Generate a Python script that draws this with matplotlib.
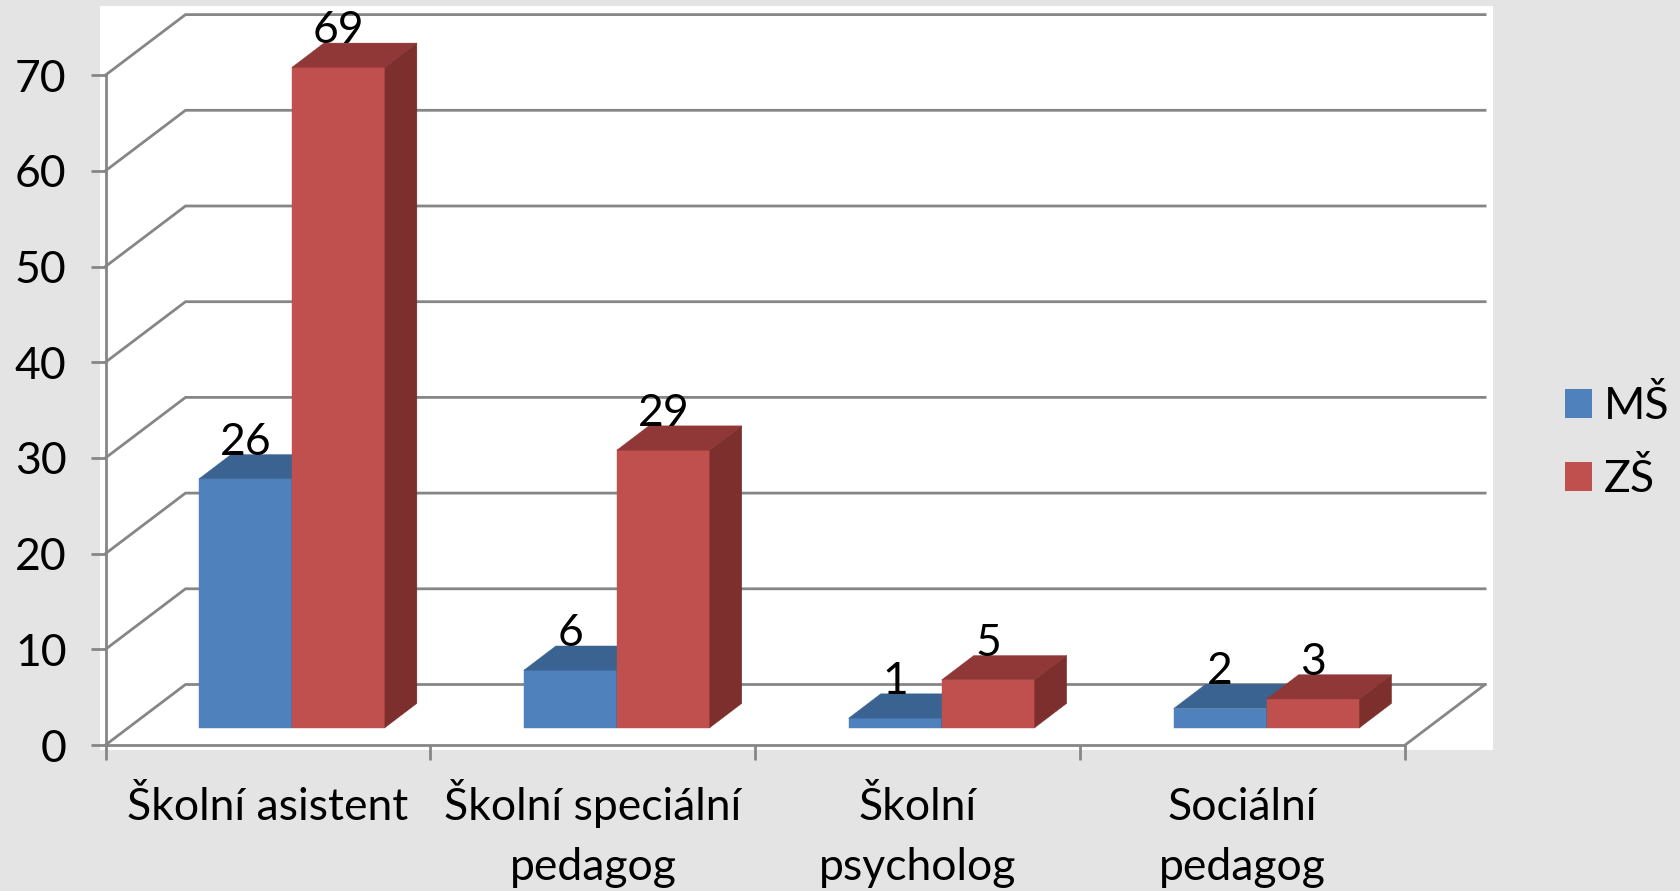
import matplotlib.pyplot as plt
from matplotlib.patches import Patch, Polygon

categories = ['Školní asistent', 'Školní speciální\npedagog', 'Školní\npsycholog', 'Sociální\npedagog']
ms_values = [26, 6, 1, 2]
zs_values = [69, 29, 5, 3]
y_ticks = [0, 10, 20, 30, 40, 50, 60, 70]

bg_color = '#E4E4E4'
grid_color = '#868686'
ms_colors = ('#4F81BD', '#3A6391', '#3A6391')
zs_colors = ('#C0504D', '#903838', '#7C2F2D')
font_size = 32

# one category is 324.9 px wide, ten units on y are 95.7 px
px_x = 324.9
px_y = 9.57
wall_dx = 80 / px_x
wall_dy = 60.5 / px_y
bar_dx = 32 / px_x
bar_dy = 24.3 / px_y
bar_base = 17.3 / px_y
bar_left = 0.2875
bar_width = 0.2862

plt.rcParams['font.family'] = ['Lato', 'DejaVu Sans']
plt.rcParams['font.size'] = font_size

w, h = 1680, 891
fig = plt.figure(figsize=(w / 100, h / 100), dpi=100, facecolor=bg_color)
ax = fig.add_axes([100 / w, 1 - 750 / h, 1393 / w, 744 / h], facecolor='white')
ax.set_xlim(-5.5 / px_x, 1387.5 / px_x)
ax.set_ylim(-5 / px_y, 739 / px_y)


def draw_bar(x, value, colors):
    y0 = bar_base
    y1 = bar_base + value
    x1 = x + bar_width
    front = [(x, y0), (x1, y0), (x1, y1), (x, y1)]
    top = [(x, y1), (x1, y1), (x1 + bar_dx, y1 + bar_dy), (x + bar_dx, y1 + bar_dy)]
    side = [(x1, y0), (x1 + bar_dx, y0 + bar_dy), (x1 + bar_dx, y1 + bar_dy), (x1, y1)]
    for points, color in zip((front, top, side), colors):
        ax.add_patch(Polygon(points, closed=True, facecolor=color, edgecolor=color, linewidth=0.3, zorder=3))
    ax.text(x + bar_width / 2, y1 + bar_dy, str(value), ha='center', va='baseline', color='black', zorder=4)


# walls
for v in y_ticks:
    ax.plot([0, wall_dx, len(categories) + wall_dx], [v, v + wall_dy, v + wall_dy],
            color=grid_color, linewidth=2.0, zorder=1, solid_joinstyle='miter')
ax.plot([len(categories), len(categories) + wall_dx], [0, wall_dy], color=grid_color, linewidth=2.0, zorder=1)

for i in range(len(categories)):
    draw_bar(i + bar_left, ms_values[i], ms_colors)
    draw_bar(i + bar_left + bar_width, zs_values[i], zs_colors)

for name in ('top', 'right'):
    ax.spines[name].set_visible(False)
for name in ('left', 'bottom'):
    ax.spines[name].set_position(('data', 0))
    ax.spines[name].set_color(grid_color)
    ax.spines[name].set_linewidth(2.0)
ax.spines['left'].set_bounds(0, 70)
ax.spines['bottom'].set_bounds(0, len(categories))

ax.set_yticks(y_ticks)
ax.set_xticks(range(len(categories) + 1))
ax.set_xticklabels([])
ax.tick_params(axis='both', which='major', direction='out', length=11, width=2.0, color=grid_color, labelcolor='black')
ax.tick_params(axis='y', pad=17)

# category names, one text per line so the baselines stay fixed
for i, name in enumerate(categories):
    for j, line in enumerate(name.split('\n')):
        ax.annotate(line, (i + 0.5, 0), xytext=(0, -75 - j * 60), textcoords='offset pixels',
                    ha='center', va='baseline', color='black', annotation_clip=False)

handles = [Patch(facecolor=ms_colors[0], label='MŠ'), Patch(facecolor=zs_colors[0], label='ZŠ')]
fig.legend(handles=handles, loc='upper left', bbox_to_anchor=(1565 / w, 1 - 386 / h), frameon=False,
           borderpad=0, borderaxespad=0, handlelength=0.61, handleheight=0.61, handletextpad=0.27,
           labelspacing=0.72, fontsize=font_size)

fig.savefig('out.png', dpi=100, facecolor=bg_color)
